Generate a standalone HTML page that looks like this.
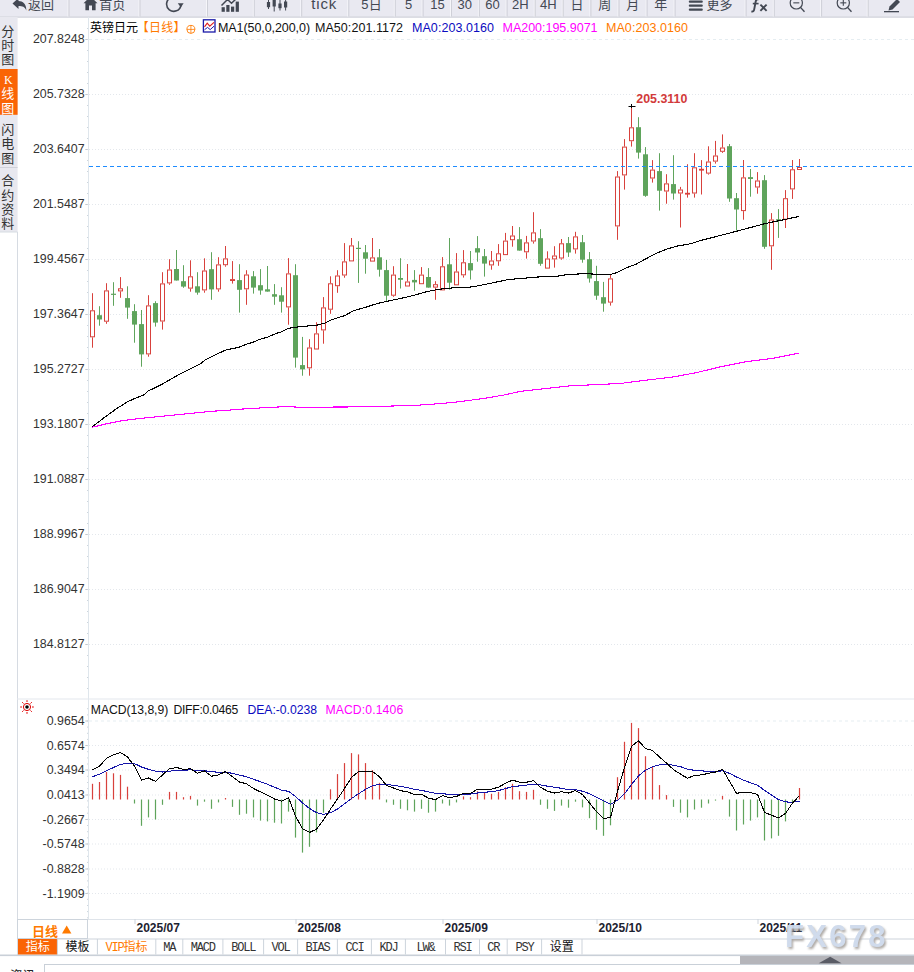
<!DOCTYPE html>
<html><head><meta charset="utf-8"><title>chart</title>
<style>
html,body{margin:0;padding:0;background:#fff}
#root{position:relative;width:914px;height:972px;overflow:hidden;background:#fff;font-family:"Liberation Sans",sans-serif}
#root svg{position:absolute;left:0;top:0}
.t{position:absolute;white-space:nowrap;line-height:1.2;font-family:"Liberation Sans",sans-serif}
svg text{font-family:"Liberation Sans",sans-serif;white-space:pre}
svg text.cj{font-family:"Liberation Sans","Noto Sans CJK SC",sans-serif}
</style></head><body>
<div id="root">
<svg width="914" height="972" viewBox="0 0 914 972">
<rect x="0" y="0" width="914" height="17.3" fill="#e9e9f1"/>
<rect x="0" y="16.6" width="914" height="1" fill="#cbccd4"/>
<rect x="0" y="17" width="17.6" height="215" fill="#e8e8ef"/>
<rect x="0" y="69" width="17.6" height="45.8" fill="#fa6405"/>
<rect x="0" y="167" width="17.6" height="1" fill="#d0d2da"/>
<rect x="17" y="232" width="1" height="723" fill="#d6dbe2"/>
<rect x="0" y="231.5" width="17.5" height="1" fill="#d6dbe2"/>
<rect x="67.5" y="0" width="1" height="16.5" fill="#f6f6fa"/><rect x="68.5" y="0" width="1" height="16.5" fill="#cfd0d8"/>
<rect x="138.5" y="0" width="1" height="16.5" fill="#f6f6fa"/><rect x="139.5" y="0" width="1" height="16.5" fill="#cfd0d8"/>
<rect x="206.0" y="0" width="1" height="16.5" fill="#f6f6fa"/><rect x="207.0" y="0" width="1" height="16.5" fill="#cfd0d8"/>
<rect x="252.8" y="0" width="1" height="16.5" fill="#f6f6fa"/><rect x="253.8" y="0" width="1" height="16.5" fill="#cfd0d8"/>
<rect x="300.2" y="0" width="1" height="16.5" fill="#f6f6fa"/><rect x="301.2" y="0" width="1" height="16.5" fill="#cfd0d8"/>
<rect x="347.3" y="0" width="1" height="16.5" fill="#f6f6fa"/><rect x="348.3" y="0" width="1" height="16.5" fill="#cfd0d8"/>
<rect x="393.8" y="0" width="1" height="16.5" fill="#f6f6fa"/><rect x="394.8" y="0" width="1" height="16.5" fill="#cfd0d8"/>
<rect x="421.6" y="0" width="1" height="16.5" fill="#f6f6fa"/><rect x="422.6" y="0" width="1" height="16.5" fill="#cfd0d8"/>
<rect x="450.0" y="0" width="1" height="16.5" fill="#f6f6fa"/><rect x="451.0" y="0" width="1" height="16.5" fill="#cfd0d8"/>
<rect x="477.9" y="0" width="1" height="16.5" fill="#f6f6fa"/><rect x="478.9" y="0" width="1" height="16.5" fill="#cfd0d8"/>
<rect x="505.6" y="0" width="1" height="16.5" fill="#f6f6fa"/><rect x="506.6" y="0" width="1" height="16.5" fill="#cfd0d8"/>
<rect x="533.7" y="0" width="1" height="16.5" fill="#f6f6fa"/><rect x="534.7" y="0" width="1" height="16.5" fill="#cfd0d8"/>
<rect x="561.7" y="0" width="1" height="16.5" fill="#f6f6fa"/><rect x="562.7" y="0" width="1" height="16.5" fill="#cfd0d8"/>
<rect x="589.4" y="0" width="1" height="16.5" fill="#f6f6fa"/><rect x="590.4" y="0" width="1" height="16.5" fill="#cfd0d8"/>
<rect x="617.5" y="0" width="1" height="16.5" fill="#f6f6fa"/><rect x="618.5" y="0" width="1" height="16.5" fill="#cfd0d8"/>
<rect x="645.6" y="0" width="1" height="16.5" fill="#f6f6fa"/><rect x="646.6" y="0" width="1" height="16.5" fill="#cfd0d8"/>
<rect x="673.6" y="0" width="1" height="16.5" fill="#f6f6fa"/><rect x="674.6" y="0" width="1" height="16.5" fill="#cfd0d8"/>
<rect x="744.6" y="0" width="1" height="16.5" fill="#f6f6fa"/><rect x="745.6" y="0" width="1" height="16.5" fill="#cfd0d8"/>
<rect x="772.8" y="0" width="1" height="16.5" fill="#f6f6fa"/><rect x="773.8" y="0" width="1" height="16.5" fill="#cfd0d8"/>
<rect x="820.1" y="0" width="1" height="16.5" fill="#f6f6fa"/><rect x="821.1" y="0" width="1" height="16.5" fill="#cfd0d8"/>
<rect x="866.7" y="0" width="1" height="16.5" fill="#f6f6fa"/><rect x="867.7" y="0" width="1" height="16.5" fill="#cfd0d8"/>
<path d="M12.5 3.5 L18.5 -2 L18.5 1 C23 1 26.5 4 26.3 10.5 C25 6.8 22.5 6 18.5 6 L18.5 9 Z" fill="#434853"/>
<text class="cj" x="28.00" y="9.24" font-size="13" fill="#434853" textLength="26" lengthAdjust="spacing">返回</text>
<path d="M83.5 3.2 L90.5 -3.5 L97.5 3.2 L95.6 3.2 L95.6 10.3 L92 10.3 L92 5.5 L89 5.5 L89 10.3 L85.4 10.3 L85.4 3.2 Z" fill="#434853"/>
<text class="cj" x="99.30" y="9.24" font-size="13" fill="#434853" textLength="26" lengthAdjust="spacing">首页</text>
<path d="M171 -2.5 A7.2 7.2 0 1 0 180.9 5.3" fill="none" stroke="#434853" stroke-width="1.6"/>
<path d="M177.8 3.3 L183.6 3.3 L180.8 7.5 Z" fill="#434853"/>
<rect x="221.6" y="7.2" width="3.2" height="4.6000000000000005" fill="#434853"/>
<rect x="226.3" y="5" width="3.2" height="6.800000000000001" fill="#434853"/>
<rect x="231" y="6.6" width="3.2" height="5.200000000000001" fill="#434853"/>
<rect x="235.7" y="1.6" width="3.2" height="10.200000000000001" fill="#434853"/>
<path d="M221.5 5.5 L227.5 -0.5 L231.5 3.3 L238 -3" fill="none" stroke="#434853" stroke-width="1.5"/>
<rect x="268.0" y="-2" width="1" height="11" fill="#434853"/><rect x="266.9" y="2" width="3.2" height="5.2" fill="#434853"/>
<rect x="273.7" y="-3" width="1" height="14.5" fill="#434853"/><rect x="272.59999999999997" y="-3" width="3.2" height="9.5" fill="#434853"/>
<rect x="279.5" y="0" width="1" height="10.5" fill="#434853"/><rect x="278.4" y="3.5" width="3.2" height="4.699999999999999" fill="#434853"/>
<rect x="285.1" y="-2" width="1" height="12.5" fill="#434853"/><rect x="284.0" y="1.5" width="3.2" height="6.0" fill="#434853"/>
<rect x="688.8" y="0.5" width="14" height="2.2" rx="1" fill="#434853"/>
<rect x="688.8" y="4.5" width="14" height="2.2" rx="1" fill="#434853"/>
<rect x="688.8" y="8.5" width="14" height="2.2" rx="1" fill="#434853"/>
<text class="cj" x="706.50" y="8.84" font-size="13" fill="#434853" textLength="26" lengthAdjust="spacing">更多</text>
<circle cx="796.3" cy="2.9" r="6.1" fill="none" stroke="#434853" stroke-width="1.2"/>
<path d="M800.5 7.4 L804.5 11.8" stroke="#434853" stroke-width="1.4"/>
<rect x="793.3" y="2.3" width="6" height="1.1" fill="#434853"/>
<circle cx="843.3" cy="2.9" r="6.1" fill="none" stroke="#434853" stroke-width="1.2"/>
<path d="M847.5 7.4 L851.5 11.8" stroke="#434853" stroke-width="1.4"/>
<rect x="840.3" y="2.3" width="6" height="1.1" fill="#434853"/>
<rect x="842.75" y="-0.2" width="1.1" height="6" fill="#434853"/>
<path d="M889.5 6.5 L897 -1 L900 2 L892.5 9.5 L888.5 10.5 Z" fill="#434853"/>
<rect x="884" y="11" width="15" height="1.3" fill="#434853"/>
<text class="cj" x="368.70" y="8.84" font-size="13" fill="#434853">日</text>
<text class="cj" x="570.50" y="8.84" font-size="13" fill="#434853">日</text>
<text class="cj" x="598.30" y="8.84" font-size="13" fill="#434853">周</text>
<text class="cj" x="626.30" y="8.84" font-size="13" fill="#434853">月</text>
<text class="cj" x="654.30" y="8.84" font-size="13" fill="#434853">年</text>
<path d="M758.8 -0.6 C756.6 -1.2 755.9 0.2 755.6 2 L754.2 9.4 C753.9 11.2 753 11.9 751.4 11.4" fill="none" stroke="#434853" stroke-width="1.9"/>
<path d="M752.8 3.6 H758.6" stroke="#434853" stroke-width="1.6"/>
<path d="M760.4 4.6 L766.6 10.8 M766.6 4.6 L760.4 10.8" stroke="#434853" stroke-width="1.9"/>
<text class="cj" x="1.20" y="35.74" font-size="13" fill="#333">分</text>
<text class="cj" x="1.20" y="49.84" font-size="13" fill="#333">时</text>
<text class="cj" x="1.20" y="63.94" font-size="13" fill="#333">图</text>
<text class="cj" x="1.20" y="98.44" font-size="13" fill="#fff">线</text>
<text class="cj" x="1.20" y="112.54" font-size="13" fill="#fff">图</text>
<text class="cj" x="1.20" y="134.14" font-size="13" fill="#333">闪</text>
<text class="cj" x="1.20" y="148.34" font-size="13" fill="#333">电</text>
<text class="cj" x="1.20" y="162.54" font-size="13" fill="#333">图</text>
<text class="cj" x="1.20" y="185.44" font-size="13" fill="#333">合</text>
<text class="cj" x="1.20" y="199.64" font-size="13" fill="#333">约</text>
<text class="cj" x="1.20" y="213.84" font-size="13" fill="#333">资</text>
<text class="cj" x="1.20" y="228.04" font-size="13" fill="#333">料</text>
<rect x="88" y="17" width="1" height="903" fill="#dfe6ec"/>
<line x1="89" y1="39.5" x2="914" y2="39.5" stroke="#e5edf1" stroke-width="1" stroke-dasharray="3 3"/>
<rect x="85.3" y="39.0" width="2.7" height="1" fill="#c4c7cc"/>
<line x1="89" y1="94.5" x2="914" y2="94.5" stroke="#e3e7ec" stroke-width="1" stroke-dasharray="1 2"/>
<rect x="85.3" y="94.0" width="2.7" height="1" fill="#c4c7cc"/>
<line x1="89" y1="149.5" x2="914" y2="149.5" stroke="#e3e7ec" stroke-width="1" stroke-dasharray="1 2"/>
<rect x="85.3" y="149.0" width="2.7" height="1" fill="#c4c7cc"/>
<line x1="89" y1="204.5" x2="914" y2="204.5" stroke="#e3e7ec" stroke-width="1" stroke-dasharray="1 2"/>
<rect x="85.3" y="204.0" width="2.7" height="1" fill="#c4c7cc"/>
<line x1="89" y1="259.5" x2="914" y2="259.5" stroke="#e3e7ec" stroke-width="1" stroke-dasharray="1 2"/>
<rect x="85.3" y="259.0" width="2.7" height="1" fill="#c4c7cc"/>
<line x1="89" y1="314.5" x2="914" y2="314.5" stroke="#e3e7ec" stroke-width="1" stroke-dasharray="1 2"/>
<rect x="85.3" y="314.0" width="2.7" height="1" fill="#c4c7cc"/>
<line x1="89" y1="369.5" x2="914" y2="369.5" stroke="#e3e7ec" stroke-width="1" stroke-dasharray="1 2"/>
<rect x="85.3" y="369.0" width="2.7" height="1" fill="#c4c7cc"/>
<line x1="89" y1="424.5" x2="914" y2="424.5" stroke="#e3e7ec" stroke-width="1" stroke-dasharray="1 2"/>
<rect x="85.3" y="424.0" width="2.7" height="1" fill="#c4c7cc"/>
<line x1="89" y1="479.5" x2="914" y2="479.5" stroke="#e3e7ec" stroke-width="1" stroke-dasharray="1 2"/>
<rect x="85.3" y="479.0" width="2.7" height="1" fill="#c4c7cc"/>
<line x1="89" y1="534.5" x2="914" y2="534.5" stroke="#e3e7ec" stroke-width="1" stroke-dasharray="1 2"/>
<rect x="85.3" y="534.0" width="2.7" height="1" fill="#c4c7cc"/>
<line x1="89" y1="589.5" x2="914" y2="589.5" stroke="#e3e7ec" stroke-width="1" stroke-dasharray="1 2"/>
<rect x="85.3" y="589.0" width="2.7" height="1" fill="#c4c7cc"/>
<line x1="89" y1="644.5" x2="914" y2="644.5" stroke="#e3e7ec" stroke-width="1" stroke-dasharray="1 2"/>
<rect x="85.3" y="644.0" width="2.7" height="1" fill="#c4c7cc"/>
<rect x="87" y="28.0" width="1" height="1" fill="#cdd5dc"/>
<rect x="87" y="39.0" width="1" height="1" fill="#cdd5dc"/>
<rect x="87" y="50.0" width="1" height="1" fill="#cdd5dc"/>
<rect x="87" y="61.0" width="1" height="1" fill="#cdd5dc"/>
<rect x="87" y="72.0" width="1" height="1" fill="#cdd5dc"/>
<rect x="87" y="83.0" width="1" height="1" fill="#cdd5dc"/>
<rect x="87" y="94.0" width="1" height="1" fill="#cdd5dc"/>
<rect x="87" y="105.0" width="1" height="1" fill="#cdd5dc"/>
<rect x="87" y="116.0" width="1" height="1" fill="#cdd5dc"/>
<rect x="87" y="127.0" width="1" height="1" fill="#cdd5dc"/>
<rect x="87" y="138.0" width="1" height="1" fill="#cdd5dc"/>
<rect x="87" y="149.0" width="1" height="1" fill="#cdd5dc"/>
<rect x="87" y="160.0" width="1" height="1" fill="#cdd5dc"/>
<rect x="87" y="171.0" width="1" height="1" fill="#cdd5dc"/>
<rect x="87" y="182.0" width="1" height="1" fill="#cdd5dc"/>
<rect x="87" y="193.0" width="1" height="1" fill="#cdd5dc"/>
<rect x="87" y="204.0" width="1" height="1" fill="#cdd5dc"/>
<rect x="87" y="215.0" width="1" height="1" fill="#cdd5dc"/>
<rect x="87" y="226.0" width="1" height="1" fill="#cdd5dc"/>
<rect x="87" y="237.0" width="1" height="1" fill="#cdd5dc"/>
<rect x="87" y="248.0" width="1" height="1" fill="#cdd5dc"/>
<rect x="87" y="259.0" width="1" height="1" fill="#cdd5dc"/>
<rect x="87" y="270.0" width="1" height="1" fill="#cdd5dc"/>
<rect x="87" y="281.0" width="1" height="1" fill="#cdd5dc"/>
<rect x="87" y="292.0" width="1" height="1" fill="#cdd5dc"/>
<rect x="87" y="303.0" width="1" height="1" fill="#cdd5dc"/>
<rect x="87" y="314.0" width="1" height="1" fill="#cdd5dc"/>
<rect x="87" y="325.0" width="1" height="1" fill="#cdd5dc"/>
<rect x="87" y="336.0" width="1" height="1" fill="#cdd5dc"/>
<rect x="87" y="347.0" width="1" height="1" fill="#cdd5dc"/>
<rect x="87" y="358.0" width="1" height="1" fill="#cdd5dc"/>
<rect x="87" y="369.0" width="1" height="1" fill="#cdd5dc"/>
<rect x="87" y="380.0" width="1" height="1" fill="#cdd5dc"/>
<rect x="87" y="391.0" width="1" height="1" fill="#cdd5dc"/>
<rect x="87" y="402.0" width="1" height="1" fill="#cdd5dc"/>
<rect x="87" y="413.0" width="1" height="1" fill="#cdd5dc"/>
<rect x="87" y="424.0" width="1" height="1" fill="#cdd5dc"/>
<rect x="87" y="435.0" width="1" height="1" fill="#cdd5dc"/>
<rect x="87" y="446.0" width="1" height="1" fill="#cdd5dc"/>
<rect x="87" y="457.0" width="1" height="1" fill="#cdd5dc"/>
<rect x="87" y="468.0" width="1" height="1" fill="#cdd5dc"/>
<rect x="87" y="479.0" width="1" height="1" fill="#cdd5dc"/>
<rect x="87" y="490.0" width="1" height="1" fill="#cdd5dc"/>
<rect x="87" y="501.0" width="1" height="1" fill="#cdd5dc"/>
<rect x="87" y="512.0" width="1" height="1" fill="#cdd5dc"/>
<rect x="87" y="523.0" width="1" height="1" fill="#cdd5dc"/>
<rect x="87" y="534.0" width="1" height="1" fill="#cdd5dc"/>
<rect x="87" y="545.0" width="1" height="1" fill="#cdd5dc"/>
<rect x="87" y="556.0" width="1" height="1" fill="#cdd5dc"/>
<rect x="87" y="567.0" width="1" height="1" fill="#cdd5dc"/>
<rect x="87" y="578.0" width="1" height="1" fill="#cdd5dc"/>
<rect x="87" y="589.0" width="1" height="1" fill="#cdd5dc"/>
<rect x="87" y="600.0" width="1" height="1" fill="#cdd5dc"/>
<rect x="87" y="611.0" width="1" height="1" fill="#cdd5dc"/>
<rect x="87" y="622.0" width="1" height="1" fill="#cdd5dc"/>
<rect x="87" y="633.0" width="1" height="1" fill="#cdd5dc"/>
<rect x="87" y="644.0" width="1" height="1" fill="#cdd5dc"/>
<rect x="87" y="655.0" width="1" height="1" fill="#cdd5dc"/>
<rect x="87" y="666.0" width="1" height="1" fill="#cdd5dc"/>
<rect x="87" y="677.0" width="1" height="1" fill="#cdd5dc"/>
<rect x="87" y="688.0" width="1" height="1" fill="#cdd5dc"/>
<rect x="17" y="698.5" width="897" height="1" fill="#e3e7ed"/>
<rect x="92.0" y="293.2" width="1" height="17.1" fill="#d8413c"/>
<rect x="92.0" y="337.3" width="1" height="10.4" fill="#d8413c"/>
<rect x="90.5" y="310.8" width="4" height="26.0" fill="#fff" stroke="#d8413c" stroke-width="1"/>
<rect x="99.0" y="306.2" width="1" height="19.5" fill="#5fa45c"/>
<rect x="97.0" y="315.2" width="5" height="4.3" fill="#5fa45c"/>
<rect x="106.0" y="283.2" width="1" height="7.2" fill="#d8413c"/>
<rect x="106.0" y="321.7" width="1" height="2.1" fill="#d8413c"/>
<rect x="104.5" y="290.9" width="4" height="30.3" fill="#fff" stroke="#d8413c" stroke-width="1"/>
<rect x="113.0" y="282.2" width="1" height="23.6" fill="#5fa45c"/>
<rect x="111.0" y="293.7" width="5" height="1.2" fill="#5fa45c"/>
<rect x="120.0" y="277.1" width="1" height="11.2" fill="#d8413c"/>
<rect x="120.0" y="291.4" width="1" height="6.4" fill="#d8413c"/>
<rect x="118.5" y="288.8" width="4" height="2.1" fill="#fff" stroke="#d8413c" stroke-width="1"/>
<rect x="127.0" y="286.3" width="1" height="32.5" fill="#5fa45c"/>
<rect x="125.0" y="298.1" width="5" height="9.5" fill="#5fa45c"/>
<rect x="134.0" y="304.2" width="1" height="38.5" fill="#5fa45c"/>
<rect x="132.0" y="311.1" width="5" height="13.5" fill="#5fa45c"/>
<rect x="141.0" y="310.0" width="1" height="56.7" fill="#5fa45c"/>
<rect x="139.0" y="324.1" width="5" height="30.3" fill="#5fa45c"/>
<rect x="148.0" y="295.2" width="1" height="10.2" fill="#d8413c"/>
<rect x="148.0" y="354.4" width="1" height="2.3" fill="#d8413c"/>
<rect x="146.5" y="305.9" width="4" height="48.0" fill="#fff" stroke="#d8413c" stroke-width="1"/>
<rect x="155.0" y="301.2" width="1" height="25.4" fill="#5fa45c"/>
<rect x="153.0" y="303.1" width="5" height="19.5" fill="#5fa45c"/>
<rect x="162.0" y="272.2" width="1" height="11.2" fill="#d8413c"/>
<rect x="162.0" y="321.5" width="1" height="8.1" fill="#d8413c"/>
<rect x="160.5" y="283.9" width="4" height="37.1" fill="#fff" stroke="#d8413c" stroke-width="1"/>
<rect x="169.0" y="259.2" width="1" height="10.3" fill="#d8413c"/>
<rect x="169.0" y="283.4" width="1" height="1.4" fill="#d8413c"/>
<rect x="167.5" y="270.0" width="4" height="12.9" fill="#fff" stroke="#d8413c" stroke-width="1"/>
<rect x="176.0" y="250.0" width="1" height="30.5" fill="#5fa45c"/>
<rect x="174.0" y="269.0" width="5" height="11.5" fill="#5fa45c"/>
<rect x="183.0" y="265.2" width="1" height="22.6" fill="#5fa45c"/>
<rect x="181.0" y="281.2" width="5" height="5.4" fill="#5fa45c"/>
<rect x="190.0" y="260.3" width="1" height="16.0" fill="#d8413c"/>
<rect x="190.0" y="288.6" width="1" height="3.1" fill="#d8413c"/>
<rect x="188.5" y="276.8" width="4" height="11.3" fill="#fff" stroke="#d8413c" stroke-width="1"/>
<rect x="197.0" y="272.2" width="1" height="22.5" fill="#5fa45c"/>
<rect x="195.0" y="286.3" width="5" height="6.3" fill="#5fa45c"/>
<rect x="204.0" y="258.3" width="1" height="12.2" fill="#d8413c"/>
<rect x="204.0" y="290.4" width="1" height="2.3" fill="#d8413c"/>
<rect x="202.5" y="271.0" width="4" height="18.9" fill="#fff" stroke="#d8413c" stroke-width="1"/>
<rect x="211.0" y="252.2" width="1" height="47.6" fill="#5fa45c"/>
<rect x="209.0" y="269.2" width="5" height="20.2" fill="#5fa45c"/>
<rect x="218.0" y="257.2" width="1" height="7.2" fill="#d8413c"/>
<rect x="218.0" y="289.4" width="1" height="2.3" fill="#d8413c"/>
<rect x="216.5" y="264.9" width="4" height="24.0" fill="#fff" stroke="#d8413c" stroke-width="1"/>
<rect x="225.0" y="246.0" width="1" height="12.4" fill="#d8413c"/>
<rect x="225.0" y="265.2" width="1" height="1.5" fill="#d8413c"/>
<rect x="223.5" y="258.9" width="4" height="5.8" fill="#fff" stroke="#d8413c" stroke-width="1"/>
<rect x="232.0" y="261.1" width="1" height="18.0" fill="#d8413c"/>
<rect x="232.0" y="281.0" width="1" height="2.6" fill="#d8413c"/>
<rect x="230.5" y="279.6" width="4" height="0.9" fill="#fff" stroke="#d8413c" stroke-width="1"/>
<rect x="239.0" y="264.2" width="1" height="48.4" fill="#5fa45c"/>
<rect x="237.0" y="280.1" width="5" height="9.7" fill="#5fa45c"/>
<rect x="246.0" y="270.2" width="1" height="4.3" fill="#d8413c"/>
<rect x="246.0" y="289.3" width="1" height="15.5" fill="#d8413c"/>
<rect x="244.5" y="275.0" width="4" height="13.8" fill="#fff" stroke="#d8413c" stroke-width="1"/>
<rect x="253.0" y="271.1" width="1" height="22.5" fill="#5fa45c"/>
<rect x="251.0" y="276.3" width="5" height="11.3" fill="#5fa45c"/>
<rect x="260.0" y="269.1" width="1" height="25.6" fill="#5fa45c"/>
<rect x="258.0" y="285.2" width="5" height="5.3" fill="#5fa45c"/>
<rect x="267.0" y="266.0" width="1" height="25.6" fill="#5fa45c"/>
<rect x="265.0" y="289.3" width="5" height="2.3" fill="#5fa45c"/>
<rect x="274.0" y="284.1" width="1" height="20.7" fill="#5fa45c"/>
<rect x="272.0" y="294.2" width="5" height="2.5" fill="#5fa45c"/>
<rect x="281.0" y="287.2" width="1" height="25.4" fill="#5fa45c"/>
<rect x="279.0" y="295.3" width="5" height="6.4" fill="#5fa45c"/>
<rect x="288.0" y="258.1" width="1" height="15.3" fill="#d8413c"/>
<rect x="288.0" y="307.4" width="1" height="17.3" fill="#d8413c"/>
<rect x="286.5" y="273.9" width="4" height="33.0" fill="#fff" stroke="#d8413c" stroke-width="1"/>
<rect x="295.0" y="264.2" width="1" height="103.4" fill="#5fa45c"/>
<rect x="293.0" y="275.2" width="5" height="82.4" fill="#5fa45c"/>
<rect x="302.0" y="336.9" width="1" height="38.8" fill="#5fa45c"/>
<rect x="300.0" y="365.1" width="5" height="4.3" fill="#5fa45c"/>
<rect x="309.0" y="339.2" width="1" height="8.3" fill="#d8413c"/>
<rect x="309.0" y="368.3" width="1" height="7.4" fill="#d8413c"/>
<rect x="307.5" y="348.0" width="4" height="19.8" fill="#fff" stroke="#d8413c" stroke-width="1"/>
<rect x="316.0" y="322.2" width="1" height="11.2" fill="#d8413c"/>
<rect x="314.5" y="333.9" width="4" height="15.1" fill="#fff" stroke="#d8413c" stroke-width="1"/>
<rect x="323.0" y="297.1" width="1" height="10.3" fill="#d8413c"/>
<rect x="323.0" y="330.4" width="1" height="13.3" fill="#d8413c"/>
<rect x="321.5" y="307.9" width="4" height="22.0" fill="#fff" stroke="#d8413c" stroke-width="1"/>
<rect x="330.0" y="276.3" width="1" height="7.0" fill="#d8413c"/>
<rect x="330.0" y="309.7" width="1" height="4.1" fill="#d8413c"/>
<rect x="328.5" y="283.8" width="4" height="25.4" fill="#fff" stroke="#d8413c" stroke-width="1"/>
<rect x="337.0" y="270.2" width="1" height="5.3" fill="#d8413c"/>
<rect x="337.0" y="286.2" width="1" height="6.6" fill="#d8413c"/>
<rect x="335.5" y="276.0" width="4" height="9.7" fill="#fff" stroke="#d8413c" stroke-width="1"/>
<rect x="344.0" y="243.1" width="1" height="18.3" fill="#d8413c"/>
<rect x="344.0" y="275.5" width="1" height="2.2" fill="#d8413c"/>
<rect x="342.5" y="261.9" width="4" height="13.1" fill="#fff" stroke="#d8413c" stroke-width="1"/>
<rect x="351.0" y="238.0" width="1" height="7.4" fill="#d8413c"/>
<rect x="349.5" y="245.9" width="4" height="15.0" fill="#fff" stroke="#d8413c" stroke-width="1"/>
<rect x="358.0" y="241.2" width="1" height="41.7" fill="#5fa45c"/>
<rect x="356.0" y="247.8" width="5" height="1.2" fill="#5fa45c"/>
<rect x="365.0" y="245.0" width="1" height="28.7" fill="#5fa45c"/>
<rect x="363.0" y="252.3" width="5" height="6.4" fill="#5fa45c"/>
<rect x="372.0" y="238.0" width="1" height="19.4" fill="#d8413c"/>
<rect x="370.5" y="257.9" width="4" height="3.2" fill="#fff" stroke="#d8413c" stroke-width="1"/>
<rect x="379.0" y="249.0" width="1" height="27.6" fill="#5fa45c"/>
<rect x="377.0" y="257.3" width="5" height="12.4" fill="#5fa45c"/>
<rect x="386.0" y="260.0" width="1" height="41.8" fill="#5fa45c"/>
<rect x="384.0" y="270.1" width="5" height="25.6" fill="#5fa45c"/>
<rect x="393.0" y="266.2" width="1" height="8.4" fill="#d8413c"/>
<rect x="393.0" y="295.7" width="1" height="1.1" fill="#d8413c"/>
<rect x="391.5" y="275.1" width="4" height="20.1" fill="#fff" stroke="#d8413c" stroke-width="1"/>
<rect x="400.0" y="258.2" width="1" height="30.3" fill="#5fa45c"/>
<rect x="398.0" y="278.0" width="5" height="1.8" fill="#5fa45c"/>
<rect x="407.0" y="264.0" width="1" height="17.5" fill="#d8413c"/>
<rect x="405.5" y="282.0" width="4" height="4.0" fill="#fff" stroke="#d8413c" stroke-width="1"/>
<rect x="414.0" y="270.1" width="1" height="20.6" fill="#5fa45c"/>
<rect x="412.0" y="279.9" width="5" height="2.5" fill="#5fa45c"/>
<rect x="421.0" y="267.1" width="1" height="7.5" fill="#d8413c"/>
<rect x="419.5" y="275.1" width="4" height="8.6" fill="#fff" stroke="#d8413c" stroke-width="1"/>
<rect x="428.0" y="268.1" width="1" height="19.5" fill="#5fa45c"/>
<rect x="426.0" y="277.0" width="5" height="10.6" fill="#5fa45c"/>
<rect x="435.0" y="281.2" width="1" height="3.0" fill="#d8413c"/>
<rect x="435.0" y="287.6" width="1" height="12.2" fill="#d8413c"/>
<rect x="433.5" y="284.7" width="4" height="2.4" fill="#fff" stroke="#d8413c" stroke-width="1"/>
<rect x="442.0" y="257.1" width="1" height="9.2" fill="#d8413c"/>
<rect x="440.5" y="266.8" width="4" height="23.1" fill="#fff" stroke="#d8413c" stroke-width="1"/>
<rect x="449.0" y="238.0" width="1" height="51.6" fill="#5fa45c"/>
<rect x="447.0" y="264.3" width="5" height="18.4" fill="#5fa45c"/>
<rect x="456.0" y="253.1" width="1" height="18.4" fill="#d8413c"/>
<rect x="454.5" y="272.0" width="4" height="12.8" fill="#fff" stroke="#d8413c" stroke-width="1"/>
<rect x="463.0" y="250.1" width="1" height="12.2" fill="#d8413c"/>
<rect x="463.0" y="275.3" width="1" height="2.3" fill="#d8413c"/>
<rect x="461.5" y="262.8" width="4" height="12.0" fill="#fff" stroke="#d8413c" stroke-width="1"/>
<rect x="470.0" y="251.0" width="1" height="28.6" fill="#5fa45c"/>
<rect x="468.0" y="263.1" width="5" height="7.3" fill="#5fa45c"/>
<rect x="477.0" y="236.1" width="1" height="25.6" fill="#5fa45c"/>
<rect x="475.0" y="248.2" width="5" height="4.3" fill="#5fa45c"/>
<rect x="484.0" y="249.0" width="1" height="27.6" fill="#5fa45c"/>
<rect x="482.0" y="256.2" width="5" height="7.4" fill="#5fa45c"/>
<rect x="491.0" y="251.0" width="1" height="9.5" fill="#d8413c"/>
<rect x="491.0" y="265.4" width="1" height="4.3" fill="#d8413c"/>
<rect x="489.5" y="261.0" width="4" height="3.9" fill="#fff" stroke="#d8413c" stroke-width="1"/>
<rect x="498.0" y="244.1" width="1" height="9.2" fill="#d8413c"/>
<rect x="498.0" y="261.3" width="1" height="4.5" fill="#d8413c"/>
<rect x="496.5" y="253.8" width="4" height="7.0" fill="#fff" stroke="#d8413c" stroke-width="1"/>
<rect x="505.0" y="232.9" width="1" height="7.7" fill="#d8413c"/>
<rect x="503.5" y="241.1" width="4" height="13.5" fill="#fff" stroke="#d8413c" stroke-width="1"/>
<rect x="512.0" y="226.0" width="1" height="9.5" fill="#d8413c"/>
<rect x="512.0" y="240.2" width="1" height="6.5" fill="#d8413c"/>
<rect x="510.5" y="236.0" width="4" height="3.7" fill="#fff" stroke="#d8413c" stroke-width="1"/>
<rect x="519.0" y="227.1" width="1" height="23.5" fill="#5fa45c"/>
<rect x="517.0" y="239.2" width="5" height="11.4" fill="#5fa45c"/>
<rect x="526.0" y="235.9" width="1" height="6.5" fill="#d8413c"/>
<rect x="526.0" y="252.3" width="1" height="6.3" fill="#d8413c"/>
<rect x="524.5" y="242.9" width="4" height="8.9" fill="#fff" stroke="#d8413c" stroke-width="1"/>
<rect x="533.0" y="212.2" width="1" height="20.2" fill="#d8413c"/>
<rect x="533.0" y="241.5" width="1" height="2.1" fill="#d8413c"/>
<rect x="531.5" y="232.9" width="4" height="8.1" fill="#fff" stroke="#d8413c" stroke-width="1"/>
<rect x="540.0" y="229.1" width="1" height="36.7" fill="#5fa45c"/>
<rect x="538.0" y="238.2" width="5" height="25.6" fill="#5fa45c"/>
<rect x="547.0" y="251.3" width="1" height="7.2" fill="#d8413c"/>
<rect x="545.5" y="259.0" width="4" height="9.1" fill="#fff" stroke="#d8413c" stroke-width="1"/>
<rect x="554.0" y="246.2" width="1" height="9.3" fill="#d8413c"/>
<rect x="554.0" y="259.4" width="1" height="8.2" fill="#d8413c"/>
<rect x="552.5" y="256.0" width="4" height="2.9" fill="#fff" stroke="#d8413c" stroke-width="1"/>
<rect x="561.0" y="239.0" width="1" height="4.3" fill="#d8413c"/>
<rect x="561.0" y="258.5" width="1" height="1.2" fill="#d8413c"/>
<rect x="559.5" y="243.8" width="4" height="14.2" fill="#fff" stroke="#d8413c" stroke-width="1"/>
<rect x="568.0" y="237.0" width="1" height="19.9" fill="#5fa45c"/>
<rect x="566.0" y="243.1" width="5" height="9.4" fill="#5fa45c"/>
<rect x="575.0" y="231.8" width="1" height="4.6" fill="#d8413c"/>
<rect x="575.0" y="249.4" width="1" height="4.2" fill="#d8413c"/>
<rect x="573.5" y="236.9" width="4" height="12.0" fill="#fff" stroke="#d8413c" stroke-width="1"/>
<rect x="582.0" y="235.0" width="1" height="27.7" fill="#5fa45c"/>
<rect x="580.0" y="242.2" width="5" height="17.5" fill="#5fa45c"/>
<rect x="589.0" y="252.0" width="1" height="30.6" fill="#5fa45c"/>
<rect x="587.0" y="259.2" width="5" height="19.3" fill="#5fa45c"/>
<rect x="596.0" y="265.8" width="1" height="34.0" fill="#5fa45c"/>
<rect x="594.0" y="281.1" width="5" height="14.6" fill="#5fa45c"/>
<rect x="603.0" y="281.9" width="1" height="29.8" fill="#5fa45c"/>
<rect x="601.0" y="297.2" width="5" height="6.4" fill="#5fa45c"/>
<rect x="610.0" y="275.0" width="1" height="3.4" fill="#d8413c"/>
<rect x="610.0" y="302.6" width="1" height="3.0" fill="#d8413c"/>
<rect x="608.5" y="278.9" width="4" height="23.2" fill="#fff" stroke="#d8413c" stroke-width="1"/>
<rect x="617.0" y="171.1" width="1" height="5.4" fill="#d8413c"/>
<rect x="617.0" y="226.4" width="1" height="13.4" fill="#d8413c"/>
<rect x="615.5" y="177.0" width="4" height="48.9" fill="#fff" stroke="#d8413c" stroke-width="1"/>
<rect x="624.0" y="139.1" width="1" height="7.5" fill="#d8413c"/>
<rect x="624.0" y="175.4" width="1" height="14.2" fill="#d8413c"/>
<rect x="622.5" y="147.1" width="4" height="27.8" fill="#fff" stroke="#d8413c" stroke-width="1"/>
<rect x="631.0" y="106.5" width="1" height="20.8" fill="#d8413c"/>
<rect x="631.0" y="141.2" width="1" height="5.4" fill="#d8413c"/>
<rect x="629.5" y="127.8" width="4" height="12.9" fill="#fff" stroke="#d8413c" stroke-width="1"/>
<rect x="638.0" y="117.2" width="1" height="41.4" fill="#5fa45c"/>
<rect x="636.0" y="127.2" width="5" height="25.4" fill="#5fa45c"/>
<rect x="645.0" y="147.1" width="1" height="49.7" fill="#5fa45c"/>
<rect x="643.0" y="154.3" width="5" height="41.5" fill="#5fa45c"/>
<rect x="652.0" y="160.1" width="1" height="9.5" fill="#d8413c"/>
<rect x="652.0" y="178.5" width="1" height="4.1" fill="#d8413c"/>
<rect x="650.5" y="170.1" width="4" height="7.9" fill="#fff" stroke="#d8413c" stroke-width="1"/>
<rect x="659.0" y="153.2" width="1" height="57.4" fill="#5fa45c"/>
<rect x="657.0" y="171.1" width="5" height="19.6" fill="#5fa45c"/>
<rect x="666.0" y="174.2" width="1" height="9.2" fill="#d8413c"/>
<rect x="666.0" y="191.5" width="1" height="12.2" fill="#d8413c"/>
<rect x="664.5" y="183.9" width="4" height="7.1" fill="#fff" stroke="#d8413c" stroke-width="1"/>
<rect x="673.0" y="155.2" width="1" height="44.4" fill="#5fa45c"/>
<rect x="671.0" y="184.1" width="5" height="9.4" fill="#5fa45c"/>
<rect x="680.0" y="186.9" width="1" height="2.6" fill="#d8413c"/>
<rect x="680.0" y="193.5" width="1" height="34.0" fill="#d8413c"/>
<rect x="678.5" y="190.0" width="4" height="3.0" fill="#fff" stroke="#d8413c" stroke-width="1"/>
<rect x="687.0" y="164.2" width="1" height="33.4" fill="#d8413c"/>
<rect x="685.0" y="192.8" width="5" height="1.8" fill="#d8413c"/>
<rect x="694.0" y="153.2" width="1" height="14.1" fill="#d8413c"/>
<rect x="694.0" y="193.5" width="1" height="4.1" fill="#d8413c"/>
<rect x="692.5" y="167.8" width="4" height="25.2" fill="#fff" stroke="#d8413c" stroke-width="1"/>
<rect x="701.0" y="160.1" width="1" height="34.4" fill="#d8413c"/>
<rect x="699.0" y="168.8" width="5" height="1.8" fill="#d8413c"/>
<rect x="708.0" y="146.3" width="1" height="15.2" fill="#d8413c"/>
<rect x="708.0" y="173.6" width="1" height="1.0" fill="#d8413c"/>
<rect x="706.5" y="162.0" width="4" height="11.1" fill="#fff" stroke="#d8413c" stroke-width="1"/>
<rect x="715.0" y="140.9" width="1" height="14.6" fill="#d8413c"/>
<rect x="715.0" y="161.6" width="1" height="2.0" fill="#d8413c"/>
<rect x="713.5" y="156.0" width="4" height="5.1" fill="#fff" stroke="#d8413c" stroke-width="1"/>
<rect x="722.0" y="134.4" width="1" height="13.1" fill="#d8413c"/>
<rect x="722.0" y="151.8" width="1" height="1.1" fill="#d8413c"/>
<rect x="720.5" y="148.0" width="4" height="3.3" fill="#fff" stroke="#d8413c" stroke-width="1"/>
<rect x="729.0" y="144.0" width="1" height="57.8" fill="#5fa45c"/>
<rect x="727.0" y="146.2" width="5" height="52.3" fill="#5fa45c"/>
<rect x="736.0" y="193.0" width="1" height="37.6" fill="#5fa45c"/>
<rect x="734.0" y="198.2" width="5" height="11.3" fill="#5fa45c"/>
<rect x="743.0" y="160.0" width="1" height="17.4" fill="#d8413c"/>
<rect x="743.0" y="211.1" width="1" height="8.6" fill="#d8413c"/>
<rect x="741.5" y="177.9" width="4" height="32.7" fill="#fff" stroke="#d8413c" stroke-width="1"/>
<rect x="750.0" y="169.0" width="1" height="27.7" fill="#5fa45c"/>
<rect x="748.0" y="177.1" width="5" height="1.9" fill="#5fa45c"/>
<rect x="757.0" y="172.1" width="1" height="8.4" fill="#d8413c"/>
<rect x="757.0" y="187.5" width="1" height="6.2" fill="#d8413c"/>
<rect x="755.5" y="181.0" width="4" height="6.0" fill="#fff" stroke="#d8413c" stroke-width="1"/>
<rect x="764.0" y="175.1" width="1" height="73.7" fill="#5fa45c"/>
<rect x="762.0" y="180.2" width="5" height="66.6" fill="#5fa45c"/>
<rect x="771.0" y="213.1" width="1" height="6.4" fill="#d8413c"/>
<rect x="771.0" y="246.3" width="1" height="23.5" fill="#d8413c"/>
<rect x="769.5" y="220.0" width="4" height="25.8" fill="#fff" stroke="#d8413c" stroke-width="1"/>
<rect x="778.0" y="209.1" width="1" height="28.8" fill="#5fa45c"/>
<rect x="776.0" y="219.2" width="5" height="1.6" fill="#5fa45c"/>
<rect x="785.0" y="190.1" width="1" height="8.1" fill="#d8413c"/>
<rect x="785.0" y="219.7" width="1" height="8.3" fill="#d8413c"/>
<rect x="783.5" y="198.7" width="4" height="20.5" fill="#fff" stroke="#d8413c" stroke-width="1"/>
<rect x="792.0" y="160.0" width="1" height="9.3" fill="#d8413c"/>
<rect x="792.0" y="189.4" width="1" height="9.5" fill="#d8413c"/>
<rect x="790.5" y="169.8" width="4" height="19.1" fill="#fff" stroke="#d8413c" stroke-width="1"/>
<rect x="799.0" y="159.0" width="1" height="8.0" fill="#d8413c"/>
<rect x="797.5" y="167.5" width="4" height="2.0" fill="#fff" stroke="#d8413c" stroke-width="1"/>
<polyline points="92.4,427.2 105.5,424.0 123.0,420.5 140.5,418.4 158.0,416.7 175.5,414.9 193.0,413.2 210.5,411.4 228.0,410.2 240.0,409.2 264.5,407.7 286.0,406.6 299.7,407.2 347.2,407.0 350.3,406.6 387.0,406.2 417.7,405.2 439.1,403.7 460.6,401.6 485.1,398.2 503.5,395.1 520.0,391.4 542.8,388.9 572.4,385.6 598.6,384.6 621.6,383.3 647.8,380.0 674.1,376.8 697.1,372.5 720.0,366.9 746.3,361.7 772.6,358.4 798.8,353.1" fill="none" stroke="#ff00ff" stroke-width="1.1" stroke-linejoin="round" shape-rendering="crispEdges"/>
<polyline points="92.4,426.6 105.5,416.7 116.0,409.1 127.4,401.8 134.4,398.6 144.0,394.8 147.5,391.3 161.5,384.6 175.5,376.4 186.0,371.1 200.0,364.1 205.3,359.8 215.8,354.5 226.3,349.8 238.5,347.5 247.0,343.9 252.3,342.6 259.3,339.5 268.0,337.0 275.0,333.9 282.0,331.6 288.1,328.3 296.0,327.2 310.0,325.7 317.0,325.1 324.9,323.0 331.0,319.9 345.0,315.5 353.8,310.6 366.0,307.1 378.3,303.3 390.5,300.6 409.5,296.5 427.0,291.6 437.5,289.5 449.8,288.1 472.5,286.9 490.0,283.4 509.3,279.3 523.3,278.5 532.0,277.3 545.0,276.7 557.3,276.2 566.0,274.7 587.0,273.5 595.8,274.4 610.6,274.4 616.8,272.6 627.3,267.4 636.0,264.2 643.0,260.4 653.5,254.6 665.8,249.4 678.0,245.9 690.3,243.8 700.0,240.7 736.8,231.2 764.3,223.8 798.8,216.5" fill="none" stroke="#000" stroke-width="1.1" stroke-linejoin="round" shape-rendering="crispEdges"/>
<line x1="89" y1="166.5" x2="914" y2="166.5" stroke="#1e8cff" stroke-width="1.15" stroke-dasharray="4 3"/>
<path d="M628.5 106.5 H635.5 M631.5 104 V108" stroke="#000" stroke-width="1" fill="none"/>
<text class="cj" x="90.00" y="32.16" font-size="12" fill="#000" textLength="48" lengthAdjust="spacing">英镑日元</text>
<text class="cj" x="136.80" y="32.36" font-size="12" fill="#ff7a00" textLength="48.6" lengthAdjust="spacing">【日线】</text>
<circle cx="190.9" cy="29.4" r="4" fill="none" stroke="#ff7a00" stroke-width="0.9"/><path d="M186.9 29.4 H194.9 M190.9 25.4 V33.4" stroke="#ff7a00" stroke-width="0.8"/>
<rect x="203.4" y="19.8" width="11.6" height="12.2" fill="#fff" stroke="#1a1aa8" stroke-width="1.3"/>
<path d="M204.5 26.8 L207.2 23.2 L209.8 26.2 L214 22.4" stroke="#e02020" stroke-width="1.2" fill="none"/>
<path d="M204.5 29.8 L207.5 27.4 L210.2 29.6 L214 26.2" stroke="#1a1aa8" stroke-width="1" fill="none"/>
<line x1="89" y1="721" x2="914" y2="721" stroke="#e5edf1" stroke-width="1" stroke-dasharray="3 3"/>
<rect x="85.3" y="720.5" width="2.7" height="1" fill="#c4c7cc"/>
<line x1="89" y1="745.5" x2="914" y2="745.5" stroke="#e3e7ec" stroke-width="1" stroke-dasharray="1 2"/>
<rect x="85.3" y="745.0" width="2.7" height="1" fill="#c4c7cc"/>
<line x1="89" y1="770" x2="914" y2="770" stroke="#e3e7ec" stroke-width="1" stroke-dasharray="1 2"/>
<rect x="85.3" y="769.5" width="2.7" height="1" fill="#c4c7cc"/>
<line x1="89" y1="795" x2="914" y2="795" stroke="#e3e7ec" stroke-width="1" stroke-dasharray="1 2"/>
<rect x="85.3" y="794.5" width="2.7" height="1" fill="#c4c7cc"/>
<line x1="89" y1="819.5" x2="914" y2="819.5" stroke="#e3e7ec" stroke-width="1" stroke-dasharray="1 2"/>
<rect x="85.3" y="819.0" width="2.7" height="1" fill="#c4c7cc"/>
<line x1="89" y1="844" x2="914" y2="844" stroke="#e3e7ec" stroke-width="1" stroke-dasharray="1 2"/>
<rect x="85.3" y="843.5" width="2.7" height="1" fill="#c4c7cc"/>
<line x1="89" y1="869" x2="914" y2="869" stroke="#e3e7ec" stroke-width="1" stroke-dasharray="1 2"/>
<rect x="85.3" y="868.5" width="2.7" height="1" fill="#c4c7cc"/>
<line x1="89" y1="893.5" x2="914" y2="893.5" stroke="#e3e7ec" stroke-width="1" stroke-dasharray="1 2"/>
<rect x="85.3" y="893.0" width="2.7" height="1" fill="#c4c7cc"/>
<rect x="87" y="708.2" width="1" height="1" fill="#cdd5dc"/>
<rect x="87" y="714.4" width="1" height="1" fill="#cdd5dc"/>
<rect x="87" y="720.5" width="1" height="1" fill="#cdd5dc"/>
<rect x="87" y="726.6" width="1" height="1" fill="#cdd5dc"/>
<rect x="87" y="732.8" width="1" height="1" fill="#cdd5dc"/>
<rect x="87" y="738.9" width="1" height="1" fill="#cdd5dc"/>
<rect x="87" y="745.1" width="1" height="1" fill="#cdd5dc"/>
<rect x="87" y="751.2" width="1" height="1" fill="#cdd5dc"/>
<rect x="87" y="757.4" width="1" height="1" fill="#cdd5dc"/>
<rect x="87" y="763.5" width="1" height="1" fill="#cdd5dc"/>
<rect x="87" y="769.7" width="1" height="1" fill="#cdd5dc"/>
<rect x="87" y="775.8" width="1" height="1" fill="#cdd5dc"/>
<rect x="87" y="782.0" width="1" height="1" fill="#cdd5dc"/>
<rect x="87" y="788.1" width="1" height="1" fill="#cdd5dc"/>
<rect x="87" y="794.3" width="1" height="1" fill="#cdd5dc"/>
<rect x="87" y="800.4" width="1" height="1" fill="#cdd5dc"/>
<rect x="87" y="806.6" width="1" height="1" fill="#cdd5dc"/>
<rect x="87" y="812.7" width="1" height="1" fill="#cdd5dc"/>
<rect x="87" y="818.9" width="1" height="1" fill="#cdd5dc"/>
<rect x="87" y="825.0" width="1" height="1" fill="#cdd5dc"/>
<rect x="87" y="831.2" width="1" height="1" fill="#cdd5dc"/>
<rect x="87" y="837.3" width="1" height="1" fill="#cdd5dc"/>
<rect x="87" y="843.5" width="1" height="1" fill="#cdd5dc"/>
<rect x="87" y="849.6" width="1" height="1" fill="#cdd5dc"/>
<rect x="87" y="855.8" width="1" height="1" fill="#cdd5dc"/>
<rect x="87" y="861.9" width="1" height="1" fill="#cdd5dc"/>
<rect x="87" y="868.1" width="1" height="1" fill="#cdd5dc"/>
<rect x="87" y="874.2" width="1" height="1" fill="#cdd5dc"/>
<rect x="87" y="880.4" width="1" height="1" fill="#cdd5dc"/>
<rect x="87" y="886.5" width="1" height="1" fill="#cdd5dc"/>
<rect x="87" y="892.7" width="1" height="1" fill="#cdd5dc"/>
<rect x="87" y="898.8" width="1" height="1" fill="#cdd5dc"/>
<rect x="87" y="905.0" width="1" height="1" fill="#cdd5dc"/>
<rect x="87" y="911.1" width="1" height="1" fill="#cdd5dc"/>
<rect x="87" y="917.3" width="1" height="1" fill="#cdd5dc"/>
<circle cx="27" cy="707" r="3.6" fill="none" stroke="#e00000" stroke-width="1"/><circle cx="27" cy="707" r="1.8" fill="#000"/>
<line x1="32.0" y1="707.0" x2="33.8" y2="707.0" stroke="#e00000" stroke-width="1"/>
<line x1="30.5" y1="710.5" x2="31.8" y2="711.8" stroke="#e00000" stroke-width="1"/>
<line x1="27.0" y1="712.0" x2="27.0" y2="713.8" stroke="#e00000" stroke-width="1"/>
<line x1="23.5" y1="710.5" x2="22.2" y2="711.8" stroke="#e00000" stroke-width="1"/>
<line x1="22.0" y1="707.0" x2="20.2" y2="707.0" stroke="#e00000" stroke-width="1"/>
<line x1="23.5" y1="703.5" x2="22.2" y2="702.2" stroke="#e00000" stroke-width="1"/>
<line x1="27.0" y1="702.0" x2="27.0" y2="700.2" stroke="#e00000" stroke-width="1"/>
<line x1="30.5" y1="703.5" x2="31.8" y2="702.2" stroke="#e00000" stroke-width="1"/>
<rect x="91.9" y="783.8" width="1.2" height="15.7" fill="#d8413c"/>
<rect x="98.9" y="782.0" width="1.2" height="17.5" fill="#d8413c"/>
<rect x="105.9" y="772.0" width="1.2" height="27.5" fill="#d8413c"/>
<rect x="112.9" y="773.3" width="1.2" height="26.2" fill="#d8413c"/>
<rect x="119.9" y="774.9" width="1.2" height="24.6" fill="#d8413c"/>
<rect x="126.9" y="786.7" width="1.2" height="12.8" fill="#d8413c"/>
<rect x="133.9" y="799.5" width="1.2" height="4.0" fill="#5fa45c"/>
<rect x="140.9" y="799.5" width="1.2" height="26.3" fill="#5fa45c"/>
<rect x="147.9" y="799.5" width="1.2" height="17.9" fill="#5fa45c"/>
<rect x="154.9" y="799.5" width="1.2" height="20.0" fill="#5fa45c"/>
<rect x="161.9" y="799.5" width="1.2" height="5.3" fill="#5fa45c"/>
<rect x="168.9" y="791.9" width="1.2" height="7.6" fill="#d8413c"/>
<rect x="175.9" y="791.9" width="1.2" height="7.6" fill="#d8413c"/>
<rect x="182.9" y="797.2" width="1.2" height="2.3" fill="#d8413c"/>
<rect x="189.9" y="795.9" width="1.2" height="3.6" fill="#d8413c"/>
<rect x="196.9" y="799.5" width="1.2" height="6.1" fill="#5fa45c"/>
<rect x="203.9" y="799.5" width="1.2" height="2.2" fill="#5fa45c"/>
<rect x="210.9" y="799.5" width="1.2" height="9.3" fill="#5fa45c"/>
<rect x="217.9" y="799.5" width="1.2" height="2.9" fill="#5fa45c"/>
<rect x="224.9" y="798.0" width="1.2" height="1.5" fill="#d8413c"/>
<rect x="231.9" y="799.5" width="1.2" height="7.4" fill="#5fa45c"/>
<rect x="238.9" y="799.5" width="1.2" height="15.3" fill="#5fa45c"/>
<rect x="245.9" y="799.5" width="1.2" height="14.2" fill="#5fa45c"/>
<rect x="252.9" y="799.5" width="1.2" height="17.9" fill="#5fa45c"/>
<rect x="259.9" y="799.5" width="1.2" height="21.1" fill="#5fa45c"/>
<rect x="266.9" y="799.5" width="1.2" height="21.9" fill="#5fa45c"/>
<rect x="273.9" y="799.5" width="1.2" height="23.2" fill="#5fa45c"/>
<rect x="280.9" y="799.5" width="1.2" height="24.0" fill="#5fa45c"/>
<rect x="287.9" y="799.5" width="1.2" height="12.1" fill="#5fa45c"/>
<rect x="294.9" y="799.5" width="1.2" height="38.1" fill="#5fa45c"/>
<rect x="301.9" y="799.5" width="1.2" height="53.1" fill="#5fa45c"/>
<rect x="308.9" y="799.5" width="1.2" height="47.3" fill="#5fa45c"/>
<rect x="315.9" y="799.5" width="1.2" height="32.9" fill="#5fa45c"/>
<rect x="322.9" y="799.5" width="1.2" height="13.2" fill="#5fa45c"/>
<rect x="329.9" y="789.3" width="1.2" height="10.2" fill="#d8413c"/>
<rect x="336.9" y="774.1" width="1.2" height="25.4" fill="#d8413c"/>
<rect x="343.9" y="763.1" width="1.2" height="36.4" fill="#d8413c"/>
<rect x="350.9" y="753.1" width="1.2" height="46.4" fill="#d8413c"/>
<rect x="357.9" y="754.4" width="1.2" height="45.1" fill="#d8413c"/>
<rect x="364.9" y="763.1" width="1.2" height="36.4" fill="#d8413c"/>
<rect x="371.9" y="770.1" width="1.2" height="29.4" fill="#d8413c"/>
<rect x="378.9" y="782.8" width="1.2" height="16.7" fill="#d8413c"/>
<rect x="385.9" y="799.5" width="1.2" height="2.9" fill="#5fa45c"/>
<rect x="392.9" y="799.5" width="1.2" height="5.3" fill="#5fa45c"/>
<rect x="399.9" y="799.5" width="1.2" height="9.3" fill="#5fa45c"/>
<rect x="406.9" y="799.5" width="1.2" height="10.8" fill="#5fa45c"/>
<rect x="413.9" y="799.5" width="1.2" height="12.1" fill="#5fa45c"/>
<rect x="420.9" y="799.5" width="1.2" height="9.3" fill="#5fa45c"/>
<rect x="427.9" y="799.5" width="1.2" height="13.2" fill="#5fa45c"/>
<rect x="434.9" y="799.5" width="1.2" height="12.1" fill="#5fa45c"/>
<rect x="441.9" y="799.5" width="1.2" height="4.0" fill="#5fa45c"/>
<rect x="448.9" y="799.5" width="1.2" height="6.1" fill="#5fa45c"/>
<rect x="455.9" y="799.5" width="1.2" height="2.9" fill="#5fa45c"/>
<rect x="462.9" y="796.4" width="1.2" height="3.1" fill="#d8413c"/>
<rect x="469.9" y="797.2" width="1.2" height="2.3" fill="#d8413c"/>
<rect x="476.9" y="791.2" width="1.2" height="8.3" fill="#d8413c"/>
<rect x="483.9" y="793.0" width="1.2" height="6.5" fill="#d8413c"/>
<rect x="490.9" y="793.8" width="1.2" height="5.7" fill="#d8413c"/>
<rect x="497.9" y="791.9" width="1.2" height="7.6" fill="#d8413c"/>
<rect x="504.9" y="787.2" width="1.2" height="12.3" fill="#d8413c"/>
<rect x="511.9" y="783.8" width="1.2" height="15.7" fill="#d8413c"/>
<rect x="518.9" y="791.2" width="1.2" height="8.3" fill="#d8413c"/>
<rect x="525.9" y="791.9" width="1.2" height="7.6" fill="#d8413c"/>
<rect x="532.9" y="789.8" width="1.2" height="9.7" fill="#d8413c"/>
<rect x="539.9" y="799.5" width="1.2" height="5.3" fill="#5fa45c"/>
<rect x="546.9" y="799.5" width="1.2" height="9.3" fill="#5fa45c"/>
<rect x="553.9" y="799.5" width="1.2" height="11.4" fill="#5fa45c"/>
<rect x="560.9" y="799.5" width="1.2" height="6.1" fill="#5fa45c"/>
<rect x="567.9" y="799.5" width="1.2" height="8.2" fill="#5fa45c"/>
<rect x="574.9" y="799.5" width="1.2" height="2.2" fill="#5fa45c"/>
<rect x="581.9" y="799.5" width="1.2" height="7.9" fill="#5fa45c"/>
<rect x="588.9" y="799.5" width="1.2" height="18.7" fill="#5fa45c"/>
<rect x="595.9" y="799.5" width="1.2" height="30.3" fill="#5fa45c"/>
<rect x="602.9" y="799.5" width="1.2" height="36.3" fill="#5fa45c"/>
<rect x="609.9" y="799.5" width="1.2" height="25.8" fill="#5fa45c"/>
<rect x="616.9" y="777.2" width="1.2" height="22.3" fill="#d8413c"/>
<rect x="623.9" y="741.8" width="1.2" height="57.7" fill="#d8413c"/>
<rect x="630.9" y="722.9" width="1.2" height="76.6" fill="#d8413c"/>
<rect x="637.9" y="728.1" width="1.2" height="71.4" fill="#d8413c"/>
<rect x="644.9" y="756.2" width="1.2" height="43.3" fill="#d8413c"/>
<rect x="651.9" y="767.0" width="1.2" height="32.5" fill="#d8413c"/>
<rect x="658.9" y="785.1" width="1.2" height="14.4" fill="#d8413c"/>
<rect x="665.9" y="795.1" width="1.2" height="4.4" fill="#d8413c"/>
<rect x="672.9" y="799.5" width="1.2" height="7.4" fill="#5fa45c"/>
<rect x="679.9" y="799.5" width="1.2" height="13.2" fill="#5fa45c"/>
<rect x="686.9" y="799.5" width="1.2" height="17.9" fill="#5fa45c"/>
<rect x="693.9" y="799.5" width="1.2" height="10.0" fill="#5fa45c"/>
<rect x="700.9" y="799.5" width="1.2" height="8.2" fill="#5fa45c"/>
<rect x="707.9" y="799.5" width="1.2" height="4.0" fill="#5fa45c"/>
<rect x="714.9" y="799.5" width="1.2" height="1.1" fill="#5fa45c"/>
<rect x="721.9" y="795.9" width="1.2" height="3.6" fill="#d8413c"/>
<rect x="728.9" y="799.5" width="1.2" height="17.1" fill="#5fa45c"/>
<rect x="735.9" y="799.5" width="1.2" height="31.0" fill="#5fa45c"/>
<rect x="742.9" y="799.5" width="1.2" height="25.0" fill="#5fa45c"/>
<rect x="749.9" y="799.5" width="1.2" height="21.1" fill="#5fa45c"/>
<rect x="756.9" y="799.5" width="1.2" height="17.9" fill="#5fa45c"/>
<rect x="763.9" y="799.5" width="1.2" height="41.0" fill="#5fa45c"/>
<rect x="770.9" y="799.5" width="1.2" height="38.9" fill="#5fa45c"/>
<rect x="777.9" y="799.5" width="1.2" height="36.3" fill="#5fa45c"/>
<rect x="784.9" y="799.5" width="1.2" height="21.9" fill="#5fa45c"/>
<rect x="791.9" y="799.5" width="1.2" height="3.5" fill="#5fa45c"/>
<rect x="798.9" y="788.0" width="1.2" height="11.5" fill="#d8413c"/>
<polyline points="92.5,776.7 99.5,774.1 106.5,770.7 113.5,767.5 120.5,764.4 127.5,763.3 134.5,763.6 141.5,767.0 148.5,769.4 155.5,771.2 162.5,772.0 169.5,771.2 176.5,770.4 183.5,770.1 190.5,769.9 197.5,770.4 204.5,770.7 211.5,771.7 218.5,772.2 225.5,772.2 232.5,773.3 239.5,775.1 246.5,776.7 253.5,779.3 260.5,781.7 267.5,784.3 274.5,787.2 281.5,790.1 288.5,791.4 295.5,796.4 302.5,803.0 309.5,808.5 316.5,812.7 323.5,814.3 330.5,812.7 337.5,809.0 344.5,803.8 351.5,798.5 358.5,793.8 365.5,789.3 372.5,785.9 379.5,784.1 386.5,784.3 393.5,785.4 400.5,786.4 407.5,787.7 414.5,789.3 421.5,790.4 428.5,791.9 435.5,793.3 442.5,793.8 449.5,794.3 456.5,794.6 463.5,794.3 470.5,794.0 477.5,793.0 484.5,792.2 491.5,791.7 498.5,790.6 505.5,788.5 512.5,786.7 519.5,785.9 526.5,785.1 533.5,784.1 540.5,784.9 547.5,786.2 554.5,787.2 561.5,788.3 568.5,789.6 575.5,789.6 582.5,791.2 589.5,793.8 596.5,797.2 603.5,800.6 610.5,804.3 617.5,800.3 624.5,793.8 631.5,784.6 638.5,775.9 645.5,770.1 652.5,766.7 659.5,764.9 666.5,764.4 673.5,765.2 680.5,766.7 687.5,769.1 694.5,770.4 701.5,770.9 708.5,771.2 715.5,771.2 722.5,770.9 729.5,773.3 736.5,777.0 743.5,780.1 750.5,782.8 757.5,785.1 764.5,790.4 771.5,795.1 778.5,799.6 785.5,801.9 792.5,802.2 799.5,801.4" fill="none" stroke="#1515a8" stroke-width="1.05" stroke-linejoin="round" shape-rendering="crispEdges"/>
<polyline points="92.5,769.6 99.5,766.2 106.5,758.3 113.5,754.9 120.5,752.6 127.5,757.0 134.5,766.2 141.5,780.1 148.5,778.0 155.5,781.4 162.5,774.9 169.5,768.8 176.5,767.5 183.5,769.4 190.5,768.8 197.5,773.3 204.5,770.9 211.5,776.2 218.5,774.9 225.5,771.5 232.5,776.7 239.5,782.0 246.5,783.8 253.5,788.5 260.5,791.9 267.5,795.1 274.5,799.0 281.5,801.1 288.5,797.7 295.5,816.1 302.5,828.7 309.5,832.4 316.5,829.2 323.5,820.0 330.5,809.0 337.5,799.0 344.5,788.5 351.5,777.5 358.5,771.5 365.5,771.2 372.5,771.5 379.5,776.7 386.5,785.4 393.5,788.0 400.5,790.6 407.5,791.9 414.5,794.6 421.5,794.3 428.5,798.2 435.5,799.6 442.5,795.6 449.5,797.7 456.5,796.4 463.5,793.3 470.5,793.3 477.5,789.3 484.5,789.3 491.5,789.1 498.5,787.2 505.5,783.3 512.5,780.1 519.5,782.2 526.5,782.2 533.5,780.7 540.5,787.2 547.5,791.2 554.5,793.0 561.5,791.7 568.5,793.0 575.5,790.6 582.5,794.6 589.5,803.0 596.5,811.6 603.5,818.7 610.5,817.4 617.5,791.2 624.5,767.5 631.5,746.5 638.5,740.7 645.5,748.6 652.5,750.5 659.5,757.0 666.5,763.1 673.5,769.6 680.5,774.1 687.5,778.3 694.5,775.4 701.5,774.9 708.5,773.3 715.5,772.0 722.5,769.4 729.5,781.2 736.5,793.3 743.5,792.2 750.5,792.7 757.5,794.3 764.5,812.2 771.5,815.3 778.5,817.9 785.5,813.5 792.5,803.0 799.5,795.6" fill="none" stroke="#000" stroke-width="1.05" stroke-linejoin="round" shape-rendering="crispEdges"/>
<rect x="17" y="919" width="897" height="1" fill="#dfe4ea"/>
<rect x="17.5" y="919.5" width="70" height="19" fill="#fff" stroke="#cdd4dc" stroke-width="1"/>
<text class="cj" x="32.00" y="935.54" font-size="13" font-weight="bold" fill="#ff7a00" textLength="26" lengthAdjust="spacing">日线</text>
<path d="M62 933.6 L66.7 925.6 L71.4 933.6 Z" fill="#ff7a00"/>
<rect x="134.5" y="919" width="1" height="5" fill="#cdd4dc"/>
<rect x="295.5" y="919" width="1" height="5" fill="#cdd4dc"/>
<rect x="442.5" y="919" width="1" height="5" fill="#cdd4dc"/>
<rect x="596.5" y="919" width="1" height="5" fill="#cdd4dc"/>
<rect x="757.5" y="919" width="1" height="5" fill="#cdd4dc"/>
<rect x="17" y="938.5" width="897" height="1" fill="#cdd4dc"/>
<rect x="0" y="954.5" width="914" height="1.6" fill="#c9d0d8"/>
<rect x="18" y="939" width="39.4" height="15.5" fill="#fa6405"/>
<rect x="56.9" y="939" width="1" height="15.5" fill="#cdd4dc"/>
<text class="cj" x="25.70" y="951.26" font-size="12" fill="#fff" textLength="24" lengthAdjust="spacing">指标</text>
<rect x="96.9" y="939" width="1" height="15.5" fill="#cdd4dc"/>
<text class="cj" x="65.40" y="951.26" font-size="12" fill="#111" textLength="24" lengthAdjust="spacing">模板</text>
<rect x="155.3" y="939" width="1" height="15.5" fill="#cdd4dc"/>
<text class="cj" x="123.60" y="951.26" font-size="12" fill="#ff7a00" textLength="24" lengthAdjust="spacing">指标</text>
<rect x="182.3" y="939" width="1" height="15.5" fill="#cdd4dc"/>
<rect x="222.4" y="939" width="1" height="15.5" fill="#cdd4dc"/>
<rect x="263.1" y="939" width="1" height="15.5" fill="#cdd4dc"/>
<rect x="297.1" y="939" width="1" height="15.5" fill="#cdd4dc"/>
<rect x="336.9" y="939" width="1" height="15.5" fill="#cdd4dc"/>
<rect x="370.9" y="939" width="1" height="15.5" fill="#cdd4dc"/>
<rect x="404.9" y="939" width="1" height="15.5" fill="#cdd4dc"/>
<rect x="445.0" y="939" width="1" height="15.5" fill="#cdd4dc"/>
<rect x="479.0" y="939" width="1" height="15.5" fill="#cdd4dc"/>
<rect x="506.7" y="939" width="1" height="15.5" fill="#cdd4dc"/>
<rect x="541.1" y="939" width="1" height="15.5" fill="#cdd4dc"/>
<rect x="581.5" y="939" width="1" height="15.5" fill="#cdd4dc"/>
<text class="cj" x="549.80" y="951.26" font-size="12" fill="#111" textLength="24" lengthAdjust="spacing">设置</text>
<rect x="740" y="956" width="174" height="8.3" fill="#b5b5ba"/>
<path d="M818.7 963.3 L830.2 956.8 L841.6 963.3 Z" fill="#5a5c66"/>
<rect x="44.5" y="964" width="870" height="1" fill="#c9d0d8"/>
<rect x="44" y="964" width="1" height="8" fill="#c9d0d8"/>
<text class="cj" x="10.00" y="980.30" font-size="12.5" fill="#222" textLength="25" lengthAdjust="spacing">资讯</text>
<text x="311.30" y="9.25" font-size="15" fill="#434853" textLength="24.90" lengthAdjust="spacing">tick</text>
<text x="361.19" y="8.81" font-size="13" fill="#434853">5</text>
<text x="405.00" y="8.81" font-size="13" fill="#434853">5</text>
<text x="430.19" y="8.81" font-size="13" fill="#434853" textLength="14.47" lengthAdjust="spacing">15</text>
<text x="457.59" y="8.81" font-size="13" fill="#434853" textLength="14.47" lengthAdjust="spacing">30</text>
<text x="485.30" y="8.81" font-size="13" fill="#434853" textLength="14.47" lengthAdjust="spacing">60</text>
<text x="512.00" y="8.81" font-size="13" fill="#434853" textLength="16.62" lengthAdjust="spacing">2H</text>
<text x="540.00" y="8.81" font-size="13" fill="#434853" textLength="16.62" lengthAdjust="spacing">4H</text>
<text x="4.00" y="84.00" font-size="12" fill="#fff" style='font-family:"Liberation Serif",serif'>K</text>
<text x="32.92" y="42.89" font-size="12.4" fill="#333" textLength="51.69" lengthAdjust="spacing">207.8248</text>
<text x="32.92" y="97.89" font-size="12.4" fill="#333" textLength="51.69" lengthAdjust="spacing">205.7328</text>
<text x="32.92" y="152.89" font-size="12.4" fill="#333" textLength="51.69" lengthAdjust="spacing">203.6407</text>
<text x="32.92" y="207.89" font-size="12.4" fill="#333" textLength="51.69" lengthAdjust="spacing">201.5487</text>
<text x="32.92" y="262.89" font-size="12.4" fill="#333" textLength="51.69" lengthAdjust="spacing">199.4567</text>
<text x="32.92" y="317.89" font-size="12.4" fill="#333" textLength="51.69" lengthAdjust="spacing">197.3647</text>
<text x="32.92" y="372.89" font-size="12.4" fill="#333" textLength="51.69" lengthAdjust="spacing">195.2727</text>
<text x="32.92" y="427.89" font-size="12.4" fill="#333" textLength="51.69" lengthAdjust="spacing">193.1807</text>
<text x="32.92" y="482.89" font-size="12.4" fill="#333" textLength="51.69" lengthAdjust="spacing">191.0887</text>
<text x="32.92" y="537.89" font-size="12.4" fill="#333" textLength="51.69" lengthAdjust="spacing">188.9967</text>
<text x="32.92" y="592.89" font-size="12.4" fill="#333" textLength="51.69" lengthAdjust="spacing">186.9047</text>
<text x="32.92" y="647.89" font-size="12.4" fill="#333" textLength="51.69" lengthAdjust="spacing">184.8127</text>
<text x="636.30" y="103.09" font-size="12.4" fill="#d23a3a" textLength="51.00" lengthAdjust="spacing" font-weight="bold">205.3110</text>
<text x="218.00" y="31.59" font-size="12.5" fill="#111" textLength="92.07" lengthAdjust="spacing">MA1(50,0,200,0)</text>
<text x="315.00" y="31.59" font-size="12.5" fill="#111" textLength="87.95" lengthAdjust="spacing">MA50:201.1172</text>
<text x="412.00" y="31.59" font-size="12.5" fill="#0b0bc0" textLength="81.94" lengthAdjust="spacing">MA0:203.0160</text>
<text x="502.50" y="31.59" font-size="12.5" fill="#ff00ff" textLength="95.02" lengthAdjust="spacing">MA200:195.9071</text>
<text x="606.00" y="31.59" font-size="12.5" fill="#ff7a00" textLength="81.94" lengthAdjust="spacing">MA0:203.0160</text>
<text x="46.70" y="725.09" font-size="12.4" fill="#333" textLength="37.91" lengthAdjust="spacing">0.9654</text>
<text x="46.70" y="749.59" font-size="12.4" fill="#333" textLength="37.91" lengthAdjust="spacing">0.6574</text>
<text x="46.70" y="774.09" font-size="12.4" fill="#333" textLength="37.91" lengthAdjust="spacing">0.3494</text>
<text x="46.70" y="799.09" font-size="12.4" fill="#333" textLength="37.91" lengthAdjust="spacing">0.0413</text>
<text x="42.58" y="823.59" font-size="12.4" fill="#333" textLength="42.03" lengthAdjust="spacing">-0.2667</text>
<text x="42.58" y="848.09" font-size="12.4" fill="#333" textLength="42.03" lengthAdjust="spacing">-0.5748</text>
<text x="42.58" y="873.09" font-size="12.4" fill="#333" textLength="42.03" lengthAdjust="spacing">-0.8828</text>
<text x="42.58" y="897.59" font-size="12.4" fill="#333" textLength="42.03" lengthAdjust="spacing">-1.1909</text>
<text x="90.80" y="713.89" font-size="12.2" fill="#111" textLength="77.46" lengthAdjust="spacing">MACD(13,8,9)</text>
<text x="173.39" y="713.89" font-size="12.2" fill="#111" textLength="65.01" lengthAdjust="spacing">DIFF:0.0465</text>
<text x="247.39" y="713.89" font-size="12.2" fill="#0b0bc0" textLength="69.56" lengthAdjust="spacing">DEA:-0.0238</text>
<text x="325.39" y="713.89" font-size="12.2" fill="#ff00ff" textLength="77.80" lengthAdjust="spacing">MACD:0.1406</text>
<text x="136.50" y="932.00" font-size="12" fill="#1c2230" textLength="43.39" lengthAdjust="spacing" font-weight="bold">2025/07</text>
<text x="297.50" y="932.00" font-size="12" fill="#1c2230" textLength="43.39" lengthAdjust="spacing" font-weight="bold">2025/08</text>
<text x="444.50" y="932.00" font-size="12" fill="#1c2230" textLength="43.39" lengthAdjust="spacing" font-weight="bold">2025/09</text>
<text x="598.50" y="932.00" font-size="12" fill="#1c2230" textLength="43.39" lengthAdjust="spacing" font-weight="bold">2025/10</text>
<text x="759.50" y="932.00" font-size="12" fill="#1c2230" textLength="42.72" lengthAdjust="spacing" font-weight="bold">2025/11</text>
<text x="105.59" y="951.19" font-size="12" fill="#ff7a00" textLength="19.22" lengthAdjust="spacing" style='font-family:"Liberation Mono",monospace'>VIP</text>
<text x="163.30" y="951.19" font-size="12" fill="#333" textLength="13.22" lengthAdjust="spacing" style='font-family:"Liberation Mono",monospace'>MA</text>
<text x="190.84" y="951.19" font-size="12" fill="#333" textLength="25.22" lengthAdjust="spacing" style='font-family:"Liberation Mono",monospace'>MACD</text>
<text x="231.25" y="951.19" font-size="12" fill="#333" textLength="25.22" lengthAdjust="spacing" style='font-family:"Liberation Mono",monospace'>BOLL</text>
<text x="271.59" y="951.19" font-size="12" fill="#333" textLength="19.22" lengthAdjust="spacing" style='font-family:"Liberation Mono",monospace'>VOL</text>
<text x="305.50" y="951.19" font-size="12" fill="#333" textLength="25.22" lengthAdjust="spacing" style='font-family:"Liberation Mono",monospace'>BIAS</text>
<text x="345.39" y="951.19" font-size="12" fill="#333" textLength="19.22" lengthAdjust="spacing" style='font-family:"Liberation Mono",monospace'>CCI</text>
<text x="379.39" y="951.19" font-size="12" fill="#333" textLength="19.22" lengthAdjust="spacing" style='font-family:"Liberation Mono",monospace'>KDJ</text>
<text x="416.44" y="951.19" font-size="12" fill="#333" textLength="19.22" lengthAdjust="spacing" style='font-family:"Liberation Mono",monospace'>LW&amp;</text>
<text x="453.50" y="951.19" font-size="12" fill="#333" textLength="19.22" lengthAdjust="spacing" style='font-family:"Liberation Mono",monospace'>RSI</text>
<text x="487.34" y="951.19" font-size="12" fill="#333" textLength="13.22" lengthAdjust="spacing" style='font-family:"Liberation Mono",monospace'>CR</text>
<text x="515.39" y="951.19" font-size="12" fill="#333" textLength="19.22" lengthAdjust="spacing" style='font-family:"Liberation Mono",monospace'>PSY</text>
<defs><filter id="wms" x="-10%" y="-20%" width="130%" height="150%"><feGaussianBlur stdDeviation="1"/></filter></defs>
<g opacity="0.95"><text x="786.50" y="948.50" font-size="31" font-weight="bold" fill="#aaa6a2" textLength="100.54" lengthAdjust="spacing" filter="url(#wms)">FX678</text><text x="785.00" y="947.00" font-size="31" font-weight="bold" fill="#cedaec" textLength="100.54" lengthAdjust="spacing">FX678</text></g>
</svg>

</div>
</body></html>
